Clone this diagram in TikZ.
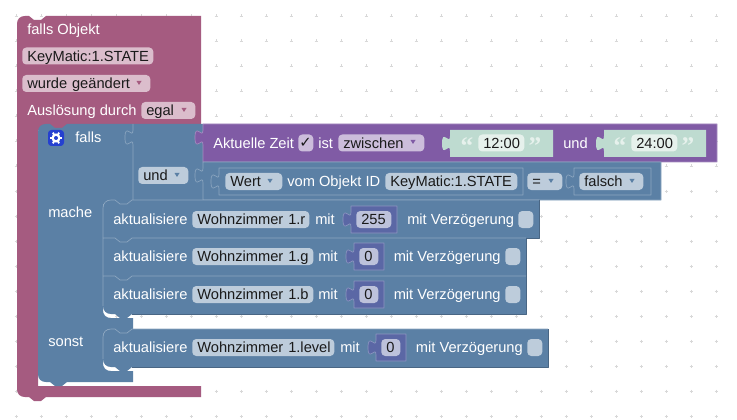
\documentclass[tikz,border=0pt]{standalone}
\usepackage{fontspec}
\setmainfont{Liberation Sans}
\newfontfamily\checkfont{DejaVu Sans}
\newfontfamily\quotefont{Liberation Serif}
\definecolor{pinkblk}{HTML}{A55B80}
\definecolor{pinkfld}{HTML}{DBBDCC}
\definecolor{blueblk}{HTML}{5B80A5}
\definecolor{bluefld}{HTML}{BDCCDB}
\definecolor{bluehi}{HTML}{8CA6C0}
\definecolor{bluelo}{HTML}{496684}
\definecolor{purpblk}{HTML}{805BA5}
\definecolor{purpfld}{HTML}{CCBDDB}
\definecolor{purphi}{HTML}{A68CC0}
\definecolor{numblk}{HTML}{5B67A5}
\definecolor{numfld}{HTML}{BDC2DB}
\definecolor{numhi}{HTML}{8C95C0}
\definecolor{strblk}{HTML}{BEDBD0}
\definecolor{strfld}{HTML}{E6F1EC}
\definecolor{fldtxt}{HTML}{1A1A1A}
\definecolor{gearblk}{HTML}{2540D0}
\definecolor{griddot}{HTML}{D8D8D8}
\tikzset{
	lbl/.style={anchor=west,inner sep=0pt,text=white,text height=8.25pt,text depth=.2pt},
	fld/.style={rounded corners=3pt,anchor=west,inner xsep=3.75pt,inner ysep=0pt,minimum height=12.75pt,
		text height=8.25pt,text depth=.2pt,align=left,text=fldtxt,text width=#1*.75pt-7.5pt},
	qmark/.style={inner sep=0pt,text=strfld,font=\quotefont\bfseries\fontsize{19}{19}\selectfont,text height=8pt,text depth=0pt},
	tabdown/.style={insert path={.. controls +(0,10) and +(0,-15.5) .. ++(-8,7.5) .. controls +(0,15.5) and +(0,-10) .. ++(8,7.5)}},
	line1/.style={line width=.5pt}
}
\begin{document}
\begin{tikzpicture}[x=.75pt,y=-.75pt,font=\fontsize{11}{13}\selectfont,line join=round]
	\useasboundingbox(0,0)rectangle(737,420);
	\fill[white](0,0)rectangle(737,420);
	\foreach \x in {16,41,...,716}\foreach \y in {16,41,...,416}\draw[griddot,line1](\x-1.5,\y)--(\x+1.5,\y)(\x,\y-1.5)--(\x,\y+1.5);
	% outer block
	\fill[pinkblk](17,24)..controls(17,19)and(20,16)..(25,16)--(29,16)--(34,20)--(41,20)--(46,16)--(201,16)--(201,130)--(38,130)--(38,386)--(201,386)--(201,397)--(46,397)--(41,401)--(34,401)--(29,397)--(25,397)..controls(20,397)and(17,394)..(17,389)--cycle;
	\node[lbl](titel)at(27,29){falls Objekt};
	\node[fld=131,fill=pinkfld](objid)at(22,56){KeyMatic:1.STATE};
	\node[fld=128,fill=pinkfld](aender)at(22,83.5){wurde~geändert};
	\node[lbl](ausl)at(27,110.5){Auslösung durch};
	\node[fld=54,fill=pinkfld](egal)at(141,110.5){egal};
	% falls block
	\fill[blueblk](38,132)..controls(38,127)and(41,124)..(46,124)--(50,124)--(55,128)--(62,128)--(67,124)--(203,124)--(203,204)--(103,204)--(103,310)..controls(103,315)and(106,318)..(111,318)--(133,318)--(133,329)--(132,329)--(127,333)--(120,333)--(115,329)--(111,329)..controls(106,329)and(103,332)..(103,337)--(103,363)..controls(103,368)and(106,371)..(111,371)--(133,371)--(133,382)--(67,382)--(62,386)--(55,386)--(50,382)--(46,382)..controls(41,382)and(38,379)..(38,374)--cycle;
	\draw[bluehi,line1](133,124)--(133,130)[tabdown]--(133,200);
	\fill[gearblk,rounded corners=2.5pt](48,130)rectangle(64,146);
	\coordinate(gear)at(56,138);
	\fill[white](gear)circle(4.6);
	\foreach \a in {0,60,...,300}\draw[white,line width=1.4pt](gear)++(\a:3)--++(\a:3.2);
	\fill[gearblk](gear)circle(2);
	\node[lbl](falls)at(75,137){falls};
	\node[lbl](mache)at(48,212){mache};
	\node[lbl](sonst)at(48,341){sonst};
	\node[fld=50,fill=bluefld](und)at(138,175.5){und};
	% zeit block
	\filldraw[fill=purpblk,draw=purphi,line1](203,124)--(203,130)[tabdown]--(203,162)--(717,162)--(717,124)--cycle;
	\node[lbl](zeit)at(213,143){Aktuelle Zeit};
	\node[fld=15,fill=purpfld](zeitcb)at(298,143){};
	\node[inner sep=0pt,text=fldtxt,font=\checkfont\fontsize{11}{11}\selectfont](zeithak)at(305.5,143){✓};
	\node[lbl](ist)at(318,143){ist};
	\node[fld=86,fill=purpfld](zwischen)at(338,143){zwischen};
	\foreach \x/\w/\f/\t/\n in {450/103/478/12:00/a,604/102/631/24:00/b}{
		\fill[strblk](\x,130)--(\x,136)[tabdown]--(\x,157)--({\x+\w},157)--({\x+\w},130)--cycle;
		\node[fld=46,fill=strfld](str\n)at(\f,143){\t};
		\node[qmark](qa\n)at(\f-11,149){“};
		\node[qmark](qb\n)at(\f+57,149){”};
	}
	\node[lbl](undb)at(563,143){und};
	% wert block
	\filldraw[fill=blueblk,draw=bluehi,line1](203,162)--(203,168)[tabdown]--(203,200)--(661,200)--(661,162)--cycle;
	\foreach \x/\w in {219/304,574/77}\filldraw[fill=blueblk,draw=bluehi,line1](\x,168)--(\x,174)[tabdown]--(\x,195)--({\x+\w},195)--({\x+\w},168)--cycle;
	\node[fld=57,fill=bluefld](wert)at(225,181.5){Wert};
	\node[lbl](vom)at(287,181.5){vom Objekt ID};
	\node[fld=132,fill=bluefld](objidb)at(385,181.5){KeyMatic:1.STATE};
	\node[fld=35,fill=bluefld](gleich)at(527,181.5){=};
	\node[fld=64,fill=bluefld](falsch)at(579,181.5){falsch};
	% dropdown arrows
	\foreach \x/\y/\c in {139/83/pinkblk,184/110/pinkblk,177/175/blueblk,413/142/purpblk,270/181/blueblk,551/181/blueblk,632/181/blueblk}\fill[\c](\x-2.5,\y-2)--(\x+2.5,\y-2)--(\x,\y+2)--cycle;
	% aktualisiere blocks
	\foreach \y/\r/\c/\d in {200/539/8/0,238/526/0/0,276/526/0/8,329/548/8/8}{
		\fill[blueblk](103,{\y+\c})..controls(103,{\y+.4*\c})and({103+.4*\c},\y)..({103+\c},\y)--(115,\y)--(120,\y+4)--(127,\y+4)--(132,\y)--(\r,\y)--(\r,\y+38)--(132,\y+38)--(127,\y+42)--(120,\y+42)--(115,\y+38)--({103+\d},\y+38)..controls({103+.4*\d},\y+38)and(103,{\y+38-.4*\d})..(103,{\y+38-\d})--cycle;
		\draw[bluehi,line1](103,{\y+38-\d})--(103,{\y+\c})..controls(103,{\y+.4*\c})and({103+.4*\c},\y)..({103+\c},\y)--(115,\y)--(120,\y+4)--(127,\y+4)--(132,\y)--(\r,\y);
		\draw[bluelo,line1](\r,\y)--(\r,\y+38)--(132,\y+38);
	}
	\foreach \n/\y/\m/\v/\b/\f/\t/\g/\k in {r/219.5/315/351/46/35/255/407/518,g/256.5/318/354/30/19/0/393.5/505,b/294.5/318/354/30/19/0/393.5/505,l/347.5/340/376/30/19/0/415.7/527}{
		\node[lbl](akt\n)at(113,\y){aktualisiere};
		\filldraw[fill=numblk,draw=numhi,line1](\v,\y-13.5)--(\v,\y-7.5)[tabdown]--(\v,\y+13.5)--({\v+\b},\y+13.5)--({\v+\b},\y-13.5)--cycle;
		\node[fld=\f,fill=numfld](num\n)at(\v+5,\y){\t};
		\node[lbl](mit\n)at(\m,\y){mit};
		\node[lbl](verz\n)at(\g,\y){mit Verzögerung};
		\node[fld=15,fill=bluefld](cb\n)at(\k,\y){};
	}
	\node[fld=117,fill=bluefld](wzr)at(192,219.5){Wohnzimmer~1.r};
	\node[fld=121,fill=bluefld](wzg)at(192,256.5){Wohnzimmer~1.g};
	\node[fld=121,fill=bluefld](wzb)at(192,294.5){Wohnzimmer~1.b};
	\node[fld=142,fill=bluefld](wzl)at(192,347.5){Wohnzimmer~1.level};
\end{tikzpicture}
\end{document}
